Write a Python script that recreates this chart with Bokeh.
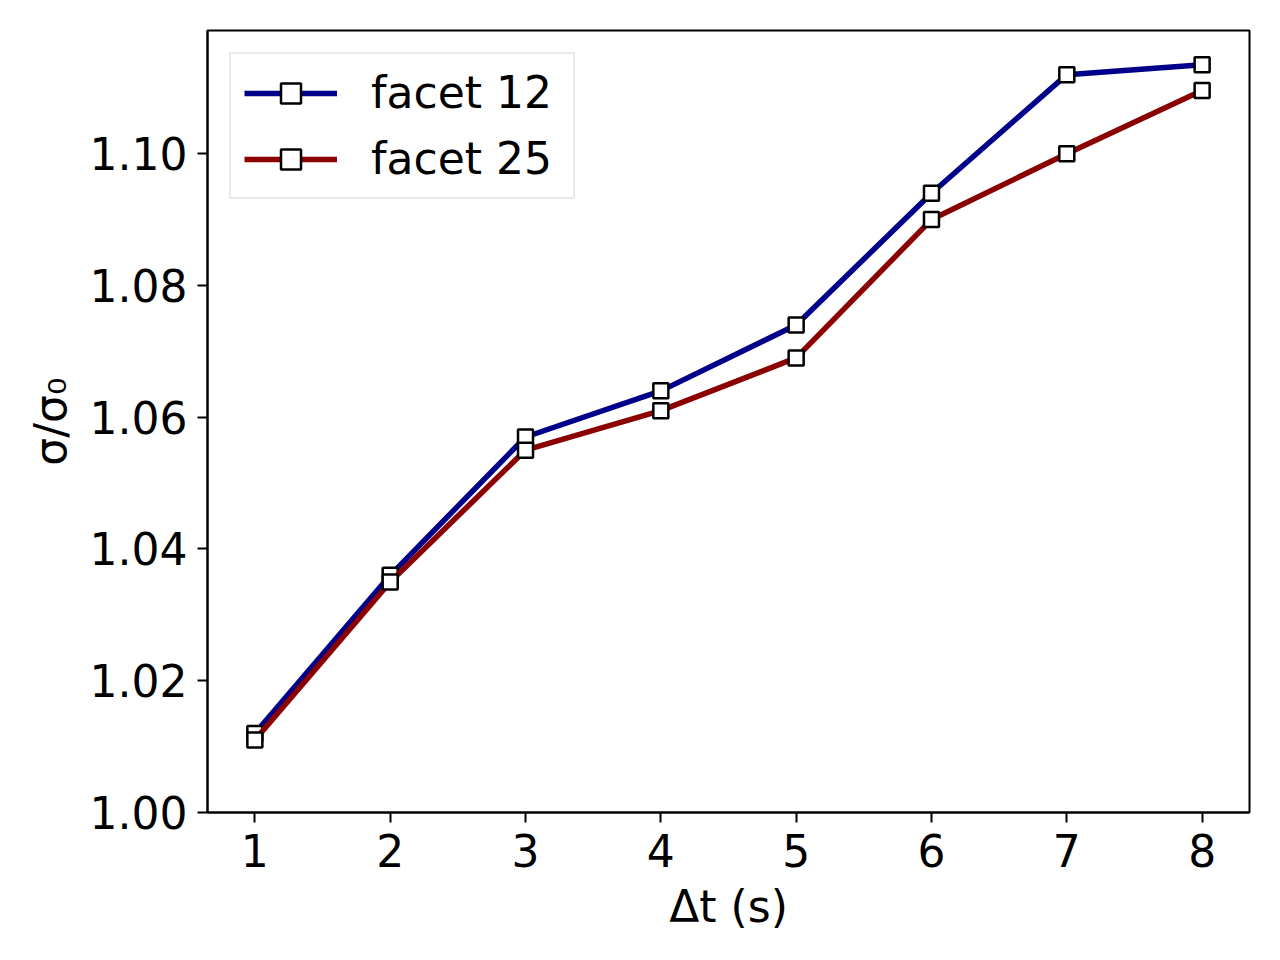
from bokeh.plotting import figure
from bokeh.models import Range1d, FixedTicker, Legend, LegendItem, NumeralTickFormatter
from bokeh.embed import file_html
from bokeh.resources import INLINE

dt = [1, 2, 3, 4, 5, 6, 7, 8]
facet12 = [1.012, 1.036, 1.057, 1.064, 1.074, 1.094, 1.112, 1.1135]
facet25 = [1.011, 1.035, 1.055, 1.061, 1.069, 1.090, 1.100, 1.1096]
series_names = ["facet 12", "facet 25"]
series_colors = ["#00008B", "#8B0000"]
x_ticks = [1, 2, 3, 4, 5, 6, 7, 8]
y_ticks = [1.00, 1.02, 1.04, 1.06, 1.08, 1.10]
x_label = "Δt (s)"
y_label = "σ/σ₀"

FONT = "DejaVu Sans"
FS = "44px"

p = figure(width=1264, height=944, output_backend="svg", toolbar_location=None,
           x_range=Range1d(0.65, 8.35), y_range=Range1d(1.0, 1.1187),
           min_border_left=207, min_border_top=30, min_border_right=15, min_border_bottom=132)
p.xgrid.visible = False
p.ygrid.visible = False
p.outline_line_color = "black"
p.outline_line_width = 2
p.background_fill_color = "white"
p.border_fill_color = "white"

for ax in (p.xaxis[0], p.yaxis[0]):
    ax.major_label_text_font = FONT
    ax.major_label_text_font_size = FS
    ax.major_label_text_color = "black"
    ax.major_tick_out = 10
    ax.major_tick_in = 0
    ax.major_tick_line_width = 2
    ax.minor_tick_out = 0
    ax.minor_tick_in = 0
    ax.axis_line_width = 2
    ax.axis_label_text_font = FONT
    ax.axis_label_text_font_size = FS
    ax.axis_label_text_font_style = "normal"
    ax.axis_label_text_color = "black"
p.xaxis.ticker = FixedTicker(ticks=x_ticks)
p.yaxis.ticker = FixedTicker(ticks=y_ticks)
p.yaxis.formatter = NumeralTickFormatter(format="0.00")
p.xaxis.major_label_standoff = 11
p.yaxis.major_label_standoff = 10
p.xaxis.axis_label = x_label
p.yaxis.axis_label = y_label
p.xaxis.axis_label_standoff = 11
p.yaxis.axis_label_standoff = 11

items = []
for ys, name, col in zip([facet12, facet25], series_names, series_colors):
    r1 = p.line(dt, ys, line_color=col, line_width=5.5)
    r2 = p.scatter(dt, ys, marker="square", size=15, fill_color="white",
                   line_color="black", line_width=2.5)
    items.append(LegendItem(label=name, renderers=[r1, r2]))

legend = Legend(items=items, location="top_left", margin=22,
                label_text_font=FONT, label_text_font_size=FS, label_text_color="black",
                glyph_width=93, glyph_height=50, label_height=50, label_width=189,
                label_standoff=34, spacing=15, padding=13,
                border_line_color="#d6d6d6", border_line_width=2,
                background_fill_alpha=0.8)
p.add_layout(legend)

open("out.html", "w").write(file_html(p, INLINE))
